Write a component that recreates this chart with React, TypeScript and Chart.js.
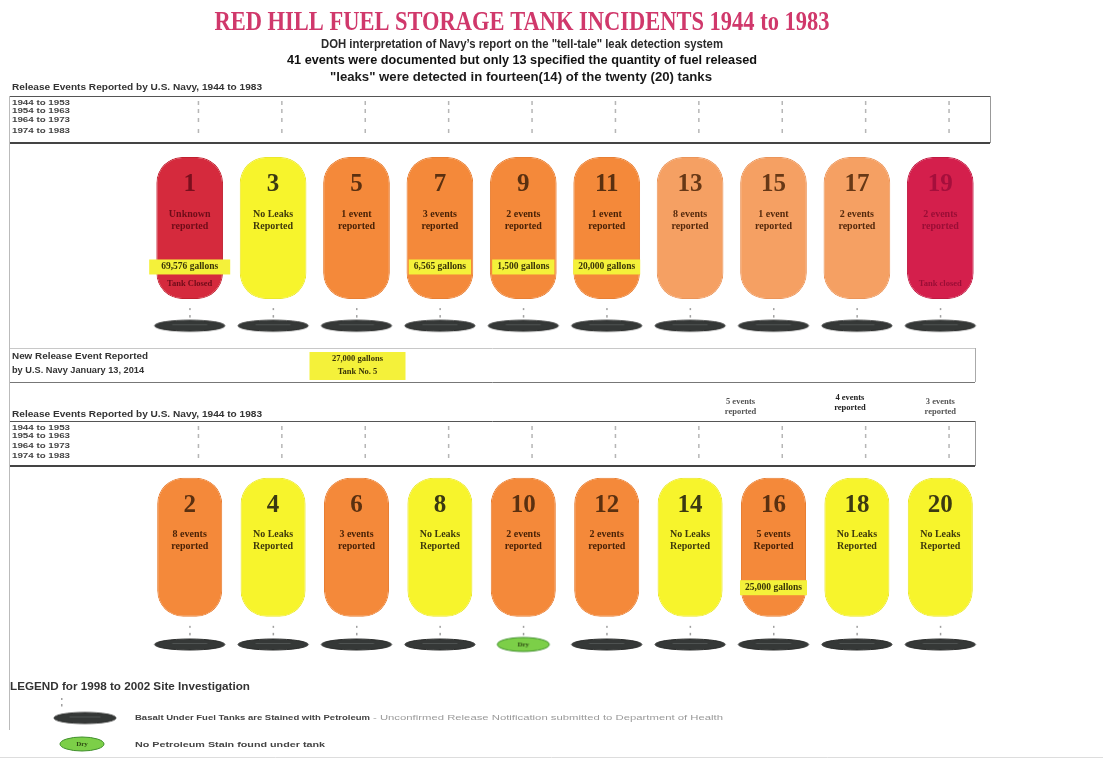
import React, { useEffect, useRef } from 'react';
import { Chart, registerables } from 'chart.js';
Chart.register(...registerables);

// ---------- DATA ----------
const columns = ['Tanks 1-2', 'Tanks 3-4', 'Tanks 5-6', 'Tanks 7-8', 'Tanks 9-10', 'Tanks 11-12', 'Tanks 13-14', 'Tanks 15-16', 'Tanks 17-18', 'Tanks 19-20'];

const oddTanks = ['1', '3', '5', '7', '9', '11', '13', '15', '17', '19'];
const oddNotes = [
  ['Unknown', 'reported'], ['No Leaks', 'Reported'], ['1 event', 'reported'], ['3 events', 'reported'], ['2 events', 'reported'],
  ['1 event', 'reported'], ['8 events', 'reported'], ['1 event', 'reported'], ['2 events', 'reported'], ['2 events', 'reported'],
];
const oddStatus = ['major', 'none', 'leak', 'leak', 'leak', 'leak', 'leakLight', 'leakLight', 'leakLight', 'closed'];
const oddGallons = ['69,576 gallons', '', '', '6,565 gallons', '1,500 gallons', '20,000 gallons', '', '', '', ''];
const oddClosed = ['Tank Closed', '', '', '', '', '', '', '', '', 'Tank closed'];
const oddStained = [true, true, true, true, true, true, true, true, true, true];

const evenTanks = ['2', '4', '6', '8', '10', '12', '14', '16', '18', '20'];
const evenNotes = [
  ['8 events', 'reported'], ['No Leaks', 'Reported'], ['3 events', 'reported'], ['No Leaks', 'Reported'], ['2 events', 'reported'],
  ['2 events', 'reported'], ['No Leaks', 'Reported'], ['5 events', 'Reported'], ['No Leaks', 'Reported'], ['No Leaks', 'Reported'],
];
const evenStatus = ['leak', 'none', 'leak', 'none', 'leak', 'leak', 'none', 'leak', 'none', 'none'];
const evenGallons = ['', '', '', '', '', '', '', '25,000 gallons', '', ''];
const evenStained = [true, true, true, true, false, true, true, true, true, true];
const evenAboveNotes = ['', '', '', '', '', '', '', '5 events|reported', '4 events|reported', '3 events|reported'];

const decades = ['1944 to 1953', '1954 to 1963', '1964 to 1973', '1974 to 1983'];

const newReleaseGallons = '27,000 gallons';
const newReleaseTank = 'Tank No. 5';
const newReleaseColumn = 2;

const titleText = 'RED HILL FUEL STORAGE TANK INCIDENTS 1944 to 1983';
const subtitleLines = [
  'DOH interpretation of Navy\u2019s report on the "tell-tale" leak detection system',
  '41 events were documented but only 13 specified the quantity of fuel released',
  '"leaks" were detected in fourteen(14) of the twenty (20) tanks',
];

// ---------- STYLE / LAYOUT ----------
const W = 1103, H = 761;
const TOP_ROW = { top: 154, bottom: 298, pad: 325 };
const BOT_ROW = { top: 479, bottom: 620, pad: 648 };

const FILL: Record<string, string> = { major: '#d52a3d', none: '#f7f42c', leak: '#f4893a', leakLight: '#f5a063', closed: '#d41f4c' };
const EDGE: Record<string, string> = { major: '#c0202f', none: '#ebe82c', leak: '#e87f34', leakLight: '#eb955a', closed: '#c01a42' };
const NUMC: Record<string, string> = { major: '#7a0f1d', none: '#3b3912', leak: '#5a3010', leakLight: '#673816', closed: '#a50f3c' };
const NOTEC: Record<string, string> = { major: '#6e0c18', none: '#3f3a0c', leak: '#4a2206', leakLight: '#55290c', closed: '#9a0e36' };

const SERIF = '"Liberation Serif", "DejaVu Serif", serif';
const SANS = '"Liberation Sans", "DejaVu Sans", sans-serif';

function txt(ctx: CanvasRenderingContext2D, s: string, x: number, y: number, font: string, color: string, align: CanvasTextAlign = 'center', width?: number) {
  ctx.save();
  ctx.font = font; ctx.fillStyle = color; ctx.textBaseline = 'middle'; ctx.textAlign = align;
  if (width) {
    const w = ctx.measureText(s).width || 1;
    ctx.translate(x, y); ctx.scale(width / w, 1); ctx.fillText(s, 0, 0);
  } else ctx.fillText(s, x, y);
  ctx.restore();
}

function padImage(w: number, h: number, fill: string, edge: string, label?: string) {
  const c = document.createElement('canvas');
  c.width = w + 4; c.height = h + 4;
  const g = c.getContext('2d')!;
  g.beginPath(); g.ellipse(c.width / 2, c.height / 2, w / 2, h / 2, 0, 0, Math.PI * 2);
  g.fillStyle = fill; g.fill(); g.strokeStyle = edge; g.lineWidth = 1; g.stroke();
  if (label) {
    g.font = 'bold 7px ' + SERIF; g.fillStyle = '#2d4a12'; g.textAlign = 'center'; g.textBaseline = 'middle';
    g.fillText(label, c.width / 2, c.height / 2 + 0.5);
  } else {
    g.strokeStyle = 'rgba(95,100,98,0.6)'; g.beginPath();
    g.moveTo(c.width / 2 - w / 4, c.height / 2 - 1); g.lineTo(c.width / 2 + w / 4, c.height / 2 - 1); g.stroke();
  }
  return c;
}

function highlight(ctx: CanvasRenderingContext2D, s: string, cx: number, cy: number, padX = 5) {
  ctx.save();
  ctx.font = 'bold 9.5px ' + SERIF;
  const w = ctx.measureText(s).width + padX * 2;
  ctx.fillStyle = '#f4f13a';
  ctx.fillRect(cx - w / 2, cy - 7.5, w, 15);
  ctx.restore();
  txt(ctx, s, cx, cy, 'bold 9.5px ' + SERIF, '#3a3508');
}

function drawTable(ctx: CanvasRenderingContext2D, chart: any, headerY: number, top: number, bottom: number, right: number, rowYs: number[]) {
  txt(ctx, 'Release Events Reported by U.S. Navy, 1944 to 1983', 12, headerY, 'bold 9px ' + SANS, '#333', 'left', 250);
  ctx.save();
  ctx.strokeStyle = '#555'; ctx.lineWidth = 1;
  ctx.beginPath(); ctx.moveTo(10, top + 0.5); ctx.lineTo(right, top + 0.5); ctx.stroke();
  ctx.strokeStyle = '#444'; ctx.lineWidth = 2;
  ctx.beginPath(); ctx.moveTo(10, bottom); ctx.lineTo(right, bottom); ctx.stroke();
  ctx.strokeStyle = '#999'; ctx.lineWidth = 1;
  ctx.beginPath(); ctx.moveTo(right + 0.5, top); ctx.lineTo(right + 0.5, bottom); ctx.stroke();
  ctx.restore();
  const meta = chart.getDatasetMeta(0);
  rowYs.forEach((y, r) => {
    txt(ctx, decades[r], 12, y, 'bold 8px ' + SANS, '#444', 'left', 58);
    meta.data.forEach((el: any) => {
      ctx.fillStyle = 'rgba(110,110,110,0.5)';
      ctx.fillRect(el.x + 8, y - 2, 1.5, 4);
    });
  });
}

const annotations = {
  id: 'annotations',
  afterDatasetsDraw(chart: any) {
    const ctx: CanvasRenderingContext2D = chart.ctx;
    const topMeta = chart.getDatasetMeta(0);
    const botMeta = chart.getDatasetMeta(1);

    // title + subtitles
    txt(ctx, titleText, 522, 23, 'bold 28px ' + SERIF, '#d0386b', 'center', 615);
    txt(ctx, subtitleLines[0], 522, 45, 'bold 12px ' + SANS, '#2a2a2a', 'center', 402);
    txt(ctx, subtitleLines[1], 522, 61, 'bold 12.5px ' + SANS, '#111', 'center', 470);
    txt(ctx, subtitleLines[2], 521, 78, 'bold 12px ' + SANS, '#1a1a1a', 'center', 382);

    // frame lines
    ctx.save(); ctx.strokeStyle = '#bbb'; ctx.lineWidth = 1;
    ctx.beginPath(); ctx.moveTo(9.5, 96); ctx.lineTo(9.5, 730); ctx.stroke();
    ctx.strokeStyle = '#ddd'; ctx.beginPath(); ctx.moveTo(0, 757.5); ctx.lineTo(W, 757.5); ctx.stroke();
    ctx.restore();

    drawTable(ctx, chart, 88, 96, 143, 990, [103, 111, 120, 131]);
    drawTable(ctx, chart, 415, 421, 466, 975, [428, 436, 446, 456]);

    // new release box
    ctx.save();
    ctx.strokeStyle = '#c8c8c8'; ctx.lineWidth = 1;
    ctx.beginPath(); ctx.moveTo(10, 348.5); ctx.lineTo(975, 348.5); ctx.stroke();
    ctx.strokeStyle = '#777';
    ctx.beginPath(); ctx.moveTo(10, 382.5); ctx.lineTo(975, 382.5); ctx.stroke();
    ctx.strokeStyle = '#aaa';
    ctx.beginPath(); ctx.moveTo(975.5, 348); ctx.lineTo(975.5, 382); ctx.stroke();
    ctx.restore();
    txt(ctx, 'New Release Event Reported', 12, 357, 'bold 9px ' + SANS, '#333', 'left', 136);
    txt(ctx, 'by U.S. Navy January 13, 2014', 12, 371, 'bold 8.5px ' + SANS, '#333', 'left', 132);
    const nx = topMeta.data[newReleaseColumn].x;
    ctx.fillStyle = '#f4f13a'; ctx.fillRect(nx - 47, 352, 96, 28);
    txt(ctx, newReleaseGallons, nx + 1, 359, 'bold 8.5px ' + SERIF, '#3a3508');
    txt(ctx, newReleaseTank, nx + 1, 372, 'bold 8.5px ' + SERIF, '#3a3508');

    // tank labels
    const rows = [
      { meta: topMeta, nums: oddTanks, notes: oddNotes, status: oddStatus, gallons: oddGallons, closed: oddClosed },
      { meta: botMeta, nums: evenTanks, notes: evenNotes, status: evenStatus, gallons: evenGallons, closed: [] as string[] },
    ];
    rows.forEach(r => {
      r.meta.data.forEach((el: any, i: number) => {
        const top = Math.min(el.y, el.base), bottom = Math.max(el.y, el.base);
        const st = r.status[i];
        txt(ctx, r.nums[i], el.x, top + 28, 'bold 25px ' + SERIF, NUMC[st]);
        txt(ctx, r.notes[i][0], el.x, top + 57, 'bold 10px ' + SERIF, NOTEC[st]);
        txt(ctx, r.notes[i][1], el.x, top + 69, 'bold 10px ' + SERIF, NOTEC[st]);
        if (r.gallons[i]) highlight(ctx, r.gallons[i], el.x, top + 110, i === 0 ? 12 : 5);
        if (r.closed[i]) txt(ctx, r.closed[i], el.x, top + 127, 'bold 8.5px ' + SERIF, NOTEC[st]);
        // connector marks
        ctx.fillStyle = 'rgba(120,120,120,0.7)';
        ctx.fillRect(el.x - 0.5, bottom + 9, 1.5, 2);
        ctx.fillRect(el.x - 0.5, bottom + 16, 1.5, 2.5);
      });
    });

    // notes above bottom table
    botMeta.data.forEach((el: any, i: number) => {
      if (!evenAboveNotes[i]) return;
      const [a, b] = evenAboveNotes[i].split('|');
      const dx = i === 7 ? -33 : i === 8 ? -7 : 0;
      const dy = i === 8 ? -4 : 0;
      const col = i === 8 ? '#222' : '#555';
      txt(ctx, a, el.x + dx, 402 + dy, 'bold 8.5px ' + SERIF, col);
      txt(ctx, b, el.x + dx, 412 + dy, 'bold 8.5px ' + SERIF, col);
    });

    // legend
    txt(ctx, 'LEGEND for 1998 to 2002 Site Investigation', 10, 687, 'bold 10px ' + SANS, '#333', 'left', 240);
    ctx.fillStyle = 'rgba(120,120,120,0.7)';
    ctx.fillRect(61, 698, 1.5, 2); ctx.fillRect(61, 704, 1.5, 2.5);
    const dark = padImage(62, 11, '#353837', '#2a2c2b');
    ctx.drawImage(dark, 85 - dark.width / 2, 718 - dark.height / 2);
    const green = padImage(44, 14, '#7ccf48', '#3f8f2b', 'Dry');
    ctx.drawImage(green, 82 - green.width / 2, 744 - green.height / 2);
    txt(ctx, 'Basalt Under Fuel Tanks are Stained with Petroleum', 135, 718, 'bold 8px ' + SANS, '#444', 'left', 235);
    txt(ctx, '- Unconfirmed Release Notification submitted to Department of Health', 373, 718, '8px ' + SANS, '#9a9a9a', 'left', 350);
    txt(ctx, 'No Petroleum Stain found under tank', 135, 745, 'bold 8px ' + SANS, '#444', 'left', 190);
  },
};

export default function App() {
  const ref = useRef<HTMLCanvasElement>(null);
  useEffect(() => {
    if (!ref.current) return;
    const darkPad = padImage(70, 11, '#353837', '#2a2c2b');
    const greenPad = padImage(52, 14, '#7ccf48', '#3f8f2b', 'Dry');
    const chart = new Chart(ref.current, {
      type: 'bar',
      data: {
        labels: columns,
        datasets: [
          {
            type: 'bar', label: 'Odd-numbered tanks',
            data: oddTanks.map(() => [TOP_ROW.bottom, TOP_ROW.top]) as any,
            backgroundColor: oddStatus.map(s => FILL[s]), borderColor: oddStatus.map(s => EDGE[s]),
            borderWidth: 1, borderSkipped: false, borderRadius: 26,
            barPercentage: 0.8, categoryPercentage: 1, grouped: false,
          } as any,
          {
            type: 'bar', label: 'Even-numbered tanks',
            data: evenTanks.map(() => [BOT_ROW.bottom, BOT_ROW.top]) as any,
            backgroundColor: evenStatus.map(s => FILL[s]), borderColor: evenStatus.map(s => EDGE[s]),
            borderWidth: 1, borderSkipped: false, borderRadius: 26,
            barPercentage: 0.78, categoryPercentage: 1, grouped: false,
          } as any,
          {
            type: 'line', label: 'Odd tank basalt',
            data: oddTanks.map(() => TOP_ROW.pad), showLine: false,
            pointStyle: oddStained.map(s => (s ? darkPad : greenPad)) as any,
          } as any,
          {
            type: 'line', label: 'Even tank basalt',
            data: evenTanks.map(() => BOT_ROW.pad), showLine: false,
            pointStyle: evenStained.map(s => (s ? darkPad : greenPad)) as any,
          } as any,
        ],
      },
      options: {
        responsive: false, animation: false, devicePixelRatio: 1,
        layout: { padding: { left: 148, right: 121, top: 0, bottom: 0 } },
        plugins: { legend: { display: false }, tooltip: { enabled: false }, title: { display: false } },
        scales: {
          x: { display: false, offset: true },
          y: { display: false, min: 0, max: H, reverse: true },
        },
      },
      plugins: [annotations],
    });
    return () => chart.destroy();
  }, []);
  return (
    <div style={{ position: 'fixed', left: 0, top: 0, width: W, height: H, background: '#fff' }}>
      <canvas ref={ref} width={W} height={H} style={{ display: 'block' }} />
    </div>
  );
}
